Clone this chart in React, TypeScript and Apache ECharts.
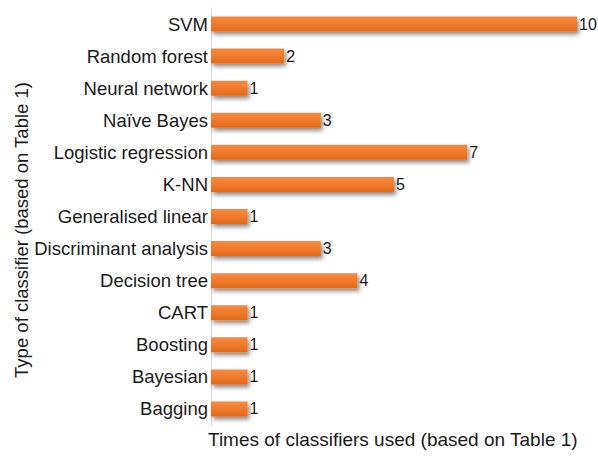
import React, { useEffect, useRef } from "react";
import * as echarts from "echarts";

const categories = [
  "SVM",
  "Random forest",
  "Neural network",
  "Naïve Bayes",
  "Logistic regression",
  "K-NN",
  "Generalised linear",
  "Discriminant analysis",
  "Decision tree",
  "CART",
  "Boosting",
  "Bayesian",
  "Bagging",
];
const counts = [10, 2, 1, 3, 7, 5, 1, 3, 4, 1, 1, 1, 1];
const xTitle = "Times of classifiers used (based on Table 1)";
const yTitle = "Type of classifier (based on Table 1)";

export default function App() {
  const ref = useRef<HTMLDivElement>(null);
  useEffect(() => {
    document.body.style.margin = "0";
    if (!ref.current) return;
    const chart = echarts.init(ref.current, null, { renderer: "svg" });
    const font = "Liberation Sans, Arial, sans-serif";
    chart.setOption({
      animation: false,
      backgroundColor: "#ffffff",
      grid: { left: 211, right: 21, top: 8, bottom: 33, containLabel: false },
      xAxis: {
        type: "value",
        min: 0,
        max: 10,
        show: false,
      },
      yAxis: {
        type: "category",
        inverse: true,
        data: categories,
        axisLine: { show: true, lineStyle: { color: "#d9d9d9", width: 1 } },
        axisTick: { show: false },
        axisLabel: {
          color: "#1a1a1a",
          fontSize: 18.5,
          fontFamily: font,
          margin: 3,
        },
        splitLine: { show: false },
      },
      series: [
        {
          type: "bar",
          data: counts,
          barWidth: 15,
          itemStyle: {
            color: new echarts.graphic.LinearGradient(0, 0, 0, 1, [
              { offset: 0, color: "#f58a45" },
              { offset: 0.5, color: "#f07a2a" },
              { offset: 1, color: "#e06a1c" },
            ]),
            shadowColor: "rgba(0,0,0,0.45)",
            shadowBlur: 4,
            shadowOffsetX: 2,
            shadowOffsetY: 3,
          },
          label: {
            show: true,
            position: "right",
            distance: 2,
            color: "#1a1a1a",
            fontSize: 16,
            fontFamily: font,
          },
        },
      ],
      graphic: [
        {
          type: "text",
          left: 208,
          top: 430,
          style: {
            text: xTitle,
            fill: "#1a1a1a",
            fontSize: 19,
            fontFamily: font,
          },
        },
        {
          type: "text",
          x: 21,
          y: 230,
          rotation: Math.PI / 2,
          style: {
            text: yTitle,
            fill: "#1a1a1a",
            fontSize: 18.5,
            fontFamily: font,
            align: "center",
            verticalAlign: "middle",
          },
        },
      ],
    });
    return () => chart.dispose();
  }, []);
  return <div ref={ref} style={{ width: 598, height: 458 }} />;
}
